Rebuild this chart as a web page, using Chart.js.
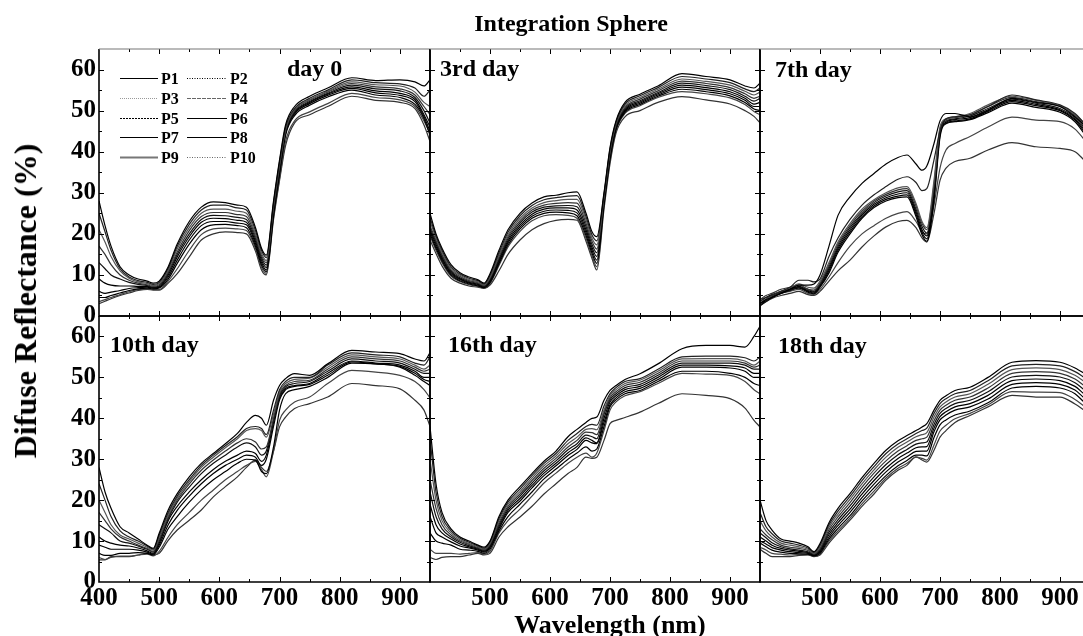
<!DOCTYPE html>
<html>
<head>
<meta charset="utf-8">
<script src="https://cdn.jsdelivr.net/npm/chart.js@4.4.0/dist/chart.umd.min.js"></script>
<style>
  html, body { margin: 0; padding: 0; background: #fff; }
  #wrap { position: relative; width: 1083px; height: 636px; overflow: hidden; background: #fff;
          font-family: 'Liberation Serif', 'Times New Roman', serif; font-weight: bold; color: #000; }
  #wrap canvas { position: absolute; left: 0; top: 0; }
  .txt { position: absolute; white-space: nowrap; line-height: 1; }
</style>
</head>
<body>
<div id="wrap">
  <canvas id="c0" width="1100" height="636"></canvas>
  <canvas id="c1" width="1100" height="636"></canvas>
  <canvas id="c2" width="1100" height="636"></canvas>
  <canvas id="c3" width="1100" height="636"></canvas>
  <canvas id="c4" width="1100" height="636"></canvas>
  <canvas id="c5" width="1100" height="636"></canvas>
  <div class="txt" style="left:571px;top:11px;font-size:24px;transform:translateX(-50%)">Integration Sphere</div>
  <div class="txt" style="left:25px;top:301px;font-size:32px;transform:translate(-50%,-50%) rotate(-90deg)">Difuse Reflectance (%)</div>
  <div class="txt" style="left:610px;top:612px;font-size:26px;transform:translateX(-50%)">Wavelength (nm)</div>
  <div class="txt" style="left:287px;top:56px;font-size:24px">day 0</div>
  <div class="txt" style="left:440px;top:56px;font-size:24px">3rd day</div>
  <div class="txt" style="left:775px;top:57px;font-size:24px">7th day</div>
  <div class="txt" style="left:110px;top:332px;font-size:24px">10th day</div>
  <div class="txt" style="left:448px;top:332px;font-size:24px">16th day</div>
  <div class="txt" style="left:778px;top:333px;font-size:24px">18th day</div>
</div>
<script>
const wavelengths = [400, 410, 420, 435, 450, 465, 480, 490, 500, 515, 530, 550, 570, 590, 610, 630,
                     645, 660, 670, 678, 690, 700, 710, 725, 750, 780, 820, 860, 900, 925, 940, 950];
const seriesNames = ['P1', 'P2', 'P3', 'P4', 'P5', 'P6', 'P7', 'P8', 'P9', 'P10'];
const xTicks = [400, 500, 600, 700, 800, 900];
const yTicks = [0, 10, 20, 30, 40, 50, 60];

// reflectance (%) per sample, one row per P-series
const day0 = [
  [28,22,17,12,10,9,8.5,8,8.5,12,17.5,23,26.5,27.8,27.6,27,26.5,21.5,16.5,14.8,28,38,46.5,51,53.5,55.5,58,57.3,57.5,57,56,57.5],
  [25,20.5,16,11.5,9.5,8.6,8.2,7.7,8.2,11.6,17,22.3,25.8,27,27,26.3,25.8,20.8,16,14.2,27.5,37.5,46,50.5,53,55,57.5,56.8,56.5,55.5,53.5,55],
  [21,18,14.5,11,9.2,8.3,7.9,7.4,7.9,11.2,16.3,21.5,25,26,26,25.5,25,20,15.3,13.5,27,37,45.5,50.3,52.7,54.7,57,56.3,56,54.5,52,51],
  [17,15,12.5,10,8.7,8,7.6,7.2,7.6,10.8,15.6,20.8,24.2,25.2,25.2,24.7,24.2,19.4,14.7,13,26.5,36.5,45.2,50,52.5,54.5,56.6,55.8,55.3,53.8,51,49],
  [13,11.5,10,9,8.2,7.7,7.4,7,7.3,10.4,15,20,23.5,24.5,24.4,24,23.5,18.8,14.2,12.4,26,36,45,49.7,52.2,54.2,56.2,55.3,54.8,53.2,50,47],
  [9,8,7.5,7.3,7.3,7.2,7.2,6.9,7.1,10,14.4,19.3,22.8,23.8,23.7,23.3,22.8,18.2,13.6,11.8,25.5,35.5,44.7,49.5,52,54,55.8,54.8,54.2,52.7,49,46],
  [6,5.5,5.8,6.2,6.7,6.9,7,6.8,7,9.5,13.6,18.5,22,23,23,22.6,22.2,17.6,13,11.2,25,35,44.4,49.2,51.7,53.7,55.4,54.3,53.7,52.2,48.5,45],
  [4.5,4.5,5,5.6,6.2,6.6,6.8,6.6,6.8,9,12.8,17.5,21,22.2,22.3,22,21.5,17,12.4,10.8,24.5,34.5,44,48.8,51.3,53.3,55,53.8,53.2,51.5,48,44],
  [3.5,4,4.5,5.2,5.9,6.4,6.6,6.5,6.5,8.5,11.5,16,19.8,21.2,21.4,21.2,20.8,16.4,11.8,10.4,24,33.5,42.5,47.5,49.7,51.7,54.2,53.2,52.6,51,47.5,44.5],
  [3,3.6,4.2,5,5.6,6.2,6.5,6.3,6.3,8,10.3,14.4,18.5,20,20.5,20.3,20,15.8,11.2,10,23.5,33,41.5,47,49,51,53.5,52.5,52,50.5,46.5,42.5]
];
const day3 = [
  [25,20,16.5,12.5,10.5,9.5,8.8,8,10.3,16,21,25,27.5,29,29.4,30,30.2,25,20.5,19.3,30,41,47.5,52,54,56,59,58.3,57.5,56,55.5,56.7],
  [24,19.5,16,12,10.2,9.2,8.6,7.8,9.9,15.4,20.4,24.4,26.9,28.3,28.8,29.2,29.3,24.2,19.7,18.3,29.6,40.6,47.2,51.6,53.6,55.6,58.3,57.7,56.8,55.3,54.6,55.5],
  [23,19,15.5,11.6,9.9,8.9,8.3,7.6,9.5,14.9,19.8,23.8,26.3,27.6,28.1,28.4,28.4,23.4,18.9,17.3,29.2,40.2,46.9,51.2,53.2,55.2,57.7,57.1,56.2,54.7,53.8,54.5],
  [22,18.4,15,11.2,9.6,8.6,8.1,7.4,9.2,14.4,19.3,23.2,25.8,27,27.4,27.6,27.5,22.6,18.2,16.3,28.8,39.8,46.6,50.8,52.8,54.8,57.2,56.6,55.6,54.1,53,53.5],
  [21.5,18,14.6,10.9,9.3,8.4,7.9,7.3,8.9,13.9,18.8,22.7,25.3,26.5,26.8,26.9,26.6,21.8,17.4,15.4,28.4,39.4,46.3,50.5,52.4,54.4,56.7,56.1,55.1,53.5,52.3,53],
  [21,17.5,14.2,10.6,9.1,8.2,7.7,7.2,8.6,13.5,18.3,22.2,24.8,26,26.3,26.3,25.8,21,16.7,14.5,28,39,46,50.2,52.1,54.1,56.2,55.6,54.6,53,51.6,52],
  [20.5,17,13.8,10.3,8.9,8,7.5,7,8.4,13.1,17.8,21.7,24.3,25.5,25.8,25.7,25.1,20.3,16,13.6,27.6,38.6,45.7,49.9,51.8,53.8,55.7,55.1,54.1,52.5,51,51],
  [20,16.5,13.4,10,8.6,7.8,7.3,6.9,8.1,12.7,17.3,21.2,23.8,25,25.3,25.1,24.4,19.6,15.3,12.8,27.2,38.2,45.4,49.6,51.5,53.5,55.2,54.6,53.6,52,50.4,50],
  [19.5,16,13,9.7,8.4,7.6,7.2,6.8,7.9,12.3,16.8,20.6,23.2,24.4,24.7,24.5,23.8,18.9,14.6,12,26.8,37.8,45.1,49.3,51.2,53.2,54.6,54.1,53.1,51.5,49.8,49],
  [18.5,15.2,12.2,9.2,8,7.3,7,6.7,7.5,11,15,18.5,21,22.5,23.3,23.5,23.3,18.2,14,11.2,26,37,44.5,48.5,50,52,53.4,52.6,51.6,50,48.6,47]
];
const day7 = [
  [3,4,4.5,5.5,6.5,7.5,7.5,7.8,10,17,24.5,29,32.3,34.7,37,38.6,39.2,37,35.5,36.5,42,47.5,49.3,49.3,48.5,50,53,52,51,48.5,46.5,45],
  [4,4.5,5,6,7,8.7,8.7,8.3,9,14.5,19,23.5,27,29.5,31.5,33.3,33.9,32.5,30.5,31,38,45,48,48.5,49,51,53.8,52.6,51.4,49.3,47,45.5],
  [3.5,4,5,6,6.8,7.8,7,6.8,8.5,13,18,22.5,26,28.3,30,31.2,31.5,27.4,23,21.5,33,46,48,48.5,49.3,51.4,53.5,52.5,51.2,49,47,45],
  [4,5,5.5,6.5,7,7.6,6.5,6.3,8,12.5,17.5,22,25.5,28,29.6,30.7,31,26.8,22.5,21,32,45.5,47.8,48.3,49,51,53.2,52.2,51,48.8,46.5,44.5],
  [2.5,3.5,4.5,5.5,6.2,7,6.5,6,7.8,12,17,21.5,25,27.6,29.2,30.2,30.5,26,21.8,20.2,31,45,47.5,48,48.7,50.5,52.8,51.8,50.5,48.3,46,44],
  [3,4,5,5.8,6.5,7.2,6.2,5.8,7.5,11.5,16.5,21,24.6,27.2,28.8,29.7,30,25.4,21,19.5,30,44.5,47.2,47.8,48.3,50.2,52.5,51.5,50.2,48,45.5,43.5],
  [3.5,4.5,5.2,6,6.6,7,6,5.6,7.2,11,16,20.5,24.2,26.8,28.4,29.2,29.5,24.8,20.3,18.8,29,44,47,47.5,48,49.8,52.2,51.2,50,47.7,45,43],
  [2.5,3.8,4.6,5.6,6.3,6.8,5.8,5.4,7,10.5,15.5,20,23.8,26.4,28,28.8,29,24.2,19.8,18.2,28,43.5,46.8,47.3,47.8,49.5,51.8,50.8,49.6,47.3,44.5,42.5],
  [3,4,4.8,5.5,6,6.5,5.5,5.3,6.5,9.5,13,17,20,22,23.8,25,25.4,23,20.5,20,27,36,40.4,42,43.7,46,48.4,47.7,47.3,45.5,43,41],
  [2.5,3.5,4.3,5,5.5,6,5.2,5,6,8.5,11,13.6,16.8,19.5,21.7,23,23.3,21.5,19,18,25,33,36,37.6,38.4,40.4,42.2,41.2,40.8,40,38,36.5]
];
const day10 = [
  [28,22,18,13.5,12,10.5,9,8.2,11.9,17.6,21.6,25.7,29,31.4,33.8,36.3,39,40.7,40,38.3,44.4,48,49.7,50.9,50.5,53.3,56.6,56.2,55.8,54.5,54,56],
  [24,20,16,12.5,11,10,8.8,8,11.5,17,21,25,28.5,31,33.3,35.5,37.5,38,37.5,36,42,47,49,50,50,53,56,55.5,55,53.5,53,55],
  [20,17,14,11.5,10.5,9.5,8.5,7.8,11,16.5,20.5,24.5,28,30.5,32.8,35,37,37.5,37,35.4,41,46.5,48.5,49.5,49.8,52.5,55.5,55,54.5,53,52,53],
  [17,15,13,11,10,9,8.2,7.5,10.5,16,20,24,27.3,29.8,32,34,35,34.2,32.5,33,40,46,48,49,49.3,52,55,54.5,54,52.5,51.5,52],
  [14,13,12,10,9.5,8.8,8,7.3,10,15.5,19.5,23.2,26.5,29,31,33,34,33,31,32,39.5,45.5,47.7,48.5,49,51.5,54.5,54,53.5,52,51,51],
  [11,10,9.5,9,8.8,8.3,7.6,7,9.5,15,18.5,22,25,27.5,29.5,31,32,31.4,29.5,31,39,45,47.3,48,48.5,51,54,53.5,53,51.5,50,50],
  [9,8.5,8,8,8,7.8,7.3,6.8,9,14,17.5,21,24,26.5,28.5,30,31,30.5,28.5,30,38,44.5,47,47.8,48.3,50.5,53.8,53.3,52.7,51,49.5,49],
  [7,6.5,6.5,7,7,7.2,7,6.6,8.5,13,16,19.5,22.5,25,27,29,30,29.8,27,26.5,33,42,46,47,47.8,50,53.5,53.3,52.5,50.5,49,48],
  [6,5.5,6,6.3,6.3,6.6,6.8,6.4,7.5,11,14,17,20,22.5,25,27,28.5,29.5,27.5,25.7,32,39.5,42,44,45.2,48.5,51.7,51.3,50.5,49,47,45],
  [5.4,5.4,6.2,6.2,6.2,6.6,7,6.6,7,10.2,12.7,15.1,17.6,20.8,23.3,25.7,28,29.8,28,27,32,37.9,40.3,42.4,43.6,45.2,48.5,48,47.2,44.4,42,38]
];
const day16 = [
  [38,24,17,13,11,10,9,8.5,10,16,20,23.3,26.5,29.5,32,35.5,37.3,39,40,40.3,44.4,46.8,48,49.5,50.9,53.3,57,57.8,57.8,57.4,60,62.5],
  [35,22,16,12.5,10.7,9.7,8.8,8.3,9.8,15.5,19.5,22.7,26,29,31.4,34.6,36.3,38,38.5,38.3,43,46,47.5,49,49.7,52,55,55.2,55.2,54.8,54,55],
  [30,20,15,12,10.3,9.4,8.6,8.1,9.5,15,19,22.1,25.4,28.4,30.8,33.8,35.4,37.3,37.5,37.2,42,45.5,47,48.5,49.3,51.5,54.5,54.6,54.6,54,53,54],
  [25,18,14,11.5,10,9.2,8.4,7.9,9.2,14.5,18.5,21.5,24.8,27.8,30.2,33,34.6,36.6,36.5,36,41.5,45,46.5,48,48.8,51,54,54,54,53.5,52.5,53],
  [22,16,13,11,9.7,8.9,8.2,7.7,9,14,18,21,24.2,27.2,29.6,32.3,33.8,35.9,35.5,35,41,44.5,46,47.5,48.3,50.5,53.5,53.5,53.5,53,52,52],
  [19,14,12,10.5,9.3,8.6,8,7.5,8.7,13.5,17.5,20.4,23.6,26.6,29,31.6,33.1,35.2,34.6,34,40,44,45.5,47,47.8,50,53,53,52.8,52.3,51,51],
  [16,12,11,9.8,8.8,8.3,7.8,7.3,8.4,13,17,19.8,23,26,28.4,30.9,32.4,34.6,34,33.8,39,43.3,45,46.5,47.3,49.5,52.5,52.5,52.3,51.5,50,50],
  [12,10,9.5,9,8,7.8,7.5,7,8,12.5,16,19,22,25.2,27.6,30,31.5,33,32,32.5,38,42.8,44.5,46,46.8,49,51.5,51.5,51,50,48.5,48],
  [8,7,7,7,6.8,7,7.2,6.8,7.5,12,15,17.8,21,24.2,26.6,29,30.5,31.5,30.5,31.5,37,42,44,45.5,46.5,48.5,51,50.8,50.5,49,47,46],
  [6,5.5,6,6.2,6.2,6.6,7,6.6,7,11,13.5,15.9,18.5,21.5,24,26.5,28,30.5,30.2,30.5,34.6,38.7,39.5,40.2,41.5,43.6,46,45.6,44.8,42.5,39.5,37.9]
];
const day18 = [
  [20,15,12.7,10.5,10,9.5,8.6,7.4,9.4,14.5,18,21.6,25.5,29,32.2,34.5,35.8,37,37.9,38.7,42,44.4,45.5,46.8,47.6,50,53.7,54.1,53.7,52.3,51,50],
  [17,13.5,11.8,10,9.5,9,8.3,7.2,9,14,17.3,20.9,24.8,28.2,31.4,33.7,35,36.3,37,37.6,41.2,43.6,44.8,46,46.8,49.2,52.8,53.2,52.8,51.4,50,49],
  [15,12.5,11,9.5,9,8.6,8,7,8.6,13.4,16.6,20.2,24,27.4,30.5,32.9,34.2,35.5,36,36.5,40.3,42.8,44,45.2,46,48.3,51.9,52.3,51.9,50.5,49,48],
  [13,11.5,10.3,9,8.5,8.2,7.7,6.9,8.2,12.8,15.9,19.4,23.2,26.6,29.6,32,33.3,34.6,35,35.4,39.4,42,43.2,44.4,45.2,47.4,51,51.4,51,49.6,48,47],
  [12,10.8,9.6,8.6,8.1,7.8,7.4,6.8,7.9,12.2,15.2,18.6,22.3,25.7,28.7,31.1,32.4,33.7,34,34.2,38.5,41.2,42.4,43.6,44.4,46.5,50.1,50.5,50.1,48.7,47,46],
  [11,10,9,8.2,7.8,7.5,7.2,6.6,7.6,11.6,14.5,17.8,21.5,24.8,27.8,30.2,31.5,32.8,33,33.1,37.6,40.4,41.6,42.8,43.6,45.6,49.2,49.6,49.2,47.8,46,45],
  [10,9.3,8.4,7.8,7.4,7.2,7,6.5,7.3,11,13.8,17,20.6,23.9,26.9,29.3,30.6,31.9,32,32,36.7,39.6,40.8,42,42.8,44.7,48.3,48.7,48.3,46.9,45,44],
  [9.5,8.6,7.8,7.3,7,6.9,6.8,6.4,7,10.5,13.1,16.2,19.8,23,26,28.4,29.7,31,31,30.8,35.3,38.4,39.6,40.8,41.8,43.8,47.4,47.8,47.4,46,44,43],
  [8.5,7.8,7,6.8,6.6,6.7,6.7,6.3,6.8,10,12.5,15.6,19.1,22.2,25.4,27.8,29,30.5,30.2,29.8,33.5,36.9,38.3,39.9,41.2,43.3,46.5,46.4,46.3,44.6,43,42],
  [8,7,6.2,6.2,6.2,6.5,6.6,6.2,6.6,9.5,12,15.1,18.5,21.5,24.9,27.3,28.5,30.6,29.8,29.3,32.2,35.4,37,39,40.7,42.8,45.6,45.2,45.2,43.5,42,41]
];

const lineColors = ['#000', '#222', '#555', '#333', '#111', '#000', '#000', '#000', '#444', '#333'];
const legendDash = [[], [1, 1.5], [1, 1], [4, 1], [2, 1], [], [], [], [], [1, 1.5]];
const legendColor = ['#000', '#000', '#999', '#666', '#000', '#000', '#000', '#000', '#777', '#666'];

const W = 1100, H = 636;
const Y_LABEL_W = 60, X_LABEL_H = 40;
const tickFont = { family: "'Liberation Serif', 'Times New Roman', serif", size: 25, weight: 'bold' };

// panel boxes: [left, top, right, bottom]
const panels = [
  { data: day0,  box: [99, 49, 430, 316],   row: 0, col: 0 },
  { data: day3,  box: [430, 49, 760, 316],  row: 0, col: 1 },
  { data: day7,  box: [760, 49, 1090, 316], row: 0, col: 2 },
  { data: day10, box: [99, 316, 430, 582],  row: 1, col: 0 },
  { data: day16, box: [430, 316, 760, 582], row: 1, col: 1 },
  { data: day18, box: [760, 316, 1090, 582], row: 1, col: 2 }
];

function frameTicks(row) {
  return {
    id: 'frameTicks',
    afterDatasetsDraw(chart) {
      const { ctx, chartArea: a, scales: { x, y } } = chart;
      ctx.save();
      ctx.strokeStyle = '#000';
      ctx.lineWidth = 1;
      ctx.beginPath();
      x.ticks.forEach(t => {
        [[t.value, 5], [t.value + 50, 3]].forEach(([v, len]) => {
          if (v <= 400 || v >= 950) return;
          const px = Math.round(x.getPixelForValue(v)) + 0.5;
          ctx.moveTo(px, a.bottom); ctx.lineTo(px, a.bottom - len);
          ctx.moveTo(px, a.top); ctx.lineTo(px, a.top + len);
        });
      });
      y.ticks.forEach(t => {
        [[t.value, 5], [t.value + 5, 3]].forEach(([v, len]) => {
          if (v <= 0 || v >= 65) return;
          const py = Math.round(y.getPixelForValue(v)) + 0.5;
          ctx.moveTo(a.left, py); ctx.lineTo(a.left + len, py);
          ctx.moveTo(a.right, py); ctx.lineTo(a.right - len, py);
        });
      });
      ctx.stroke();
      ctx.lineWidth = 1.6;
      ctx.beginPath();
      ctx.moveTo(a.left, a.top); ctx.lineTo(a.left, a.bottom); ctx.lineTo(a.right, a.bottom); ctx.lineTo(a.right, a.top);
      if (row === 1) ctx.lineTo(a.left, a.top);
      ctx.stroke();
      if (row === 0) {
        ctx.strokeStyle = '#777';
        ctx.lineWidth = 1.2;
        ctx.beginPath();
        ctx.moveTo(a.left, a.top); ctx.lineTo(a.right, a.top);
        ctx.stroke();
      }
      ctx.restore();
    }
  };
}

const legendBox = {
  id: 'legendBox',
  afterDatasetsDraw(chart) {
    const { ctx, chartArea: a } = chart;
    ctx.save();
    ctx.font = "bold 16px 'Liberation Serif', 'Times New Roman', serif";
    ctx.textBaseline = 'middle';
    ctx.fillStyle = '#000';
    chart.data.datasets.forEach((ds, i) => {
      const row = Math.floor(i / 2), col = i % 2;
      const yy = Math.round(a.top + 29.3 + row * 19.6) + 0.5;
      const x0 = a.left + (col ? 88 : 21);
      const x1 = x0 + (col ? 40 : 38);
      ctx.strokeStyle = legendColor[i];
      ctx.lineWidth = i === 8 ? 2 : 1.2;
      ctx.setLineDash(legendDash[i]);
      ctx.beginPath(); ctx.moveTo(x0, yy); ctx.lineTo(x1, yy); ctx.stroke();
      ctx.setLineDash([]);
      ctx.fillText(ds.label, x1 + 3, yy + 1);
    });
    ctx.restore();
  }
};

panels.forEach((p, k) => {
  const [l, t, r, b] = p.box;
  const showX = p.row === 1, showY = p.col === 0;
  const yW = showY ? Y_LABEL_W : 0, xH = showX ? X_LABEL_H : 0;
  new Chart(document.getElementById('c' + k), {
    type: 'line',
    data: {
      datasets: p.data.map((vals, i) => ({
        label: seriesNames[i],
        data: wavelengths.map((w, j) => ({ x: w, y: vals[j] })),
        borderColor: lineColors[i],
        borderWidth: 1.2,
        pointRadius: 0,
        fill: false,
        cubicInterpolationMode: 'monotone'
      }))
    },
    options: {
      responsive: false,
      animation: false,
      events: [],
      layout: { padding: { left: l - yW, top: t, right: W - r, bottom: H - b - xH } },
      plugins: { legend: { display: false }, tooltip: { enabled: false } },
      scales: {
        x: {
          type: 'linear', min: 400, max: 950,
          grid: { display: false, drawTicks: false }, border: { display: false },
          ticks: {
            display: showX, stepSize: 100, includeBounds: false, autoSkip: false, maxRotation: 0,
            padding: 2, color: '#000', font: tickFont,
            callback: v => (xTicks.includes(v) && !(p.col > 0 && v === 400)) ? String(v) : ''
          },
          afterFit: s => { s.height = xH; }
        },
        y: {
          min: 0, max: 65,
          grid: { display: false, drawTicks: false }, border: { display: false },
          ticks: {
            display: showY, stepSize: 10, includeBounds: false, padding: 3, color: '#000', font: tickFont,
            callback: v => yTicks.includes(v) ? String(v) : ''
          },
          afterFit: s => { s.width = yW; }
        }
      }
    },
    plugins: k === 0 ? [frameTicks(p.row), legendBox] : [frameTicks(p.row)]
  });
});
</script>
</body>
</html>
